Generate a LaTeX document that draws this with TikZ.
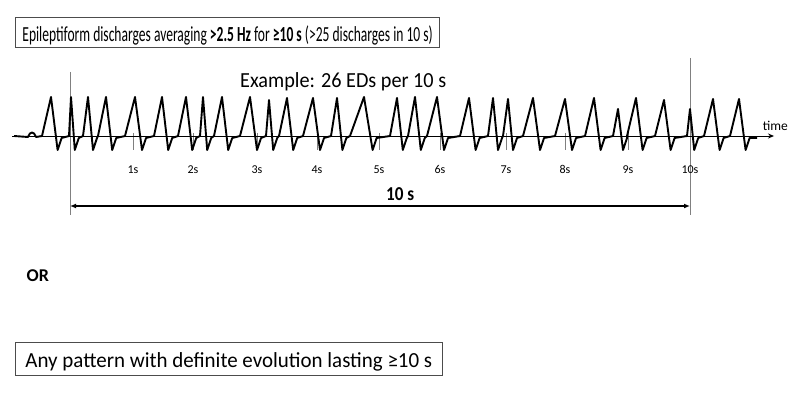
\documentclass[tikz,border=0pt]{standalone}
\usepackage{fontspec}
\setmainfont{Carlito}
\newfontfamily\rulefont[FakeStretch=0.63]{Carlito}
\newfontfamily\examplefont[FakeStretch=0.94]{Carlito}
\newfontfamily\spanfont[FakeStretch=0.87]{Carlito}
\newfontfamily\orfont[FakeStretch=0.975]{Carlito}
\usetikzlibrary{arrows.meta}
\tikzset{textbox/.style={draw=black!70, line width=0.8pt, inner ysep=0pt, anchor=base west},
 ticklabel/.style={font=\fontsize{12}{14}\selectfont, anchor=base},
 edtrace/.style={line width=1.9pt, line join=round},
 marker/.style={draw=black!50, line width=0.6pt},
}

\begin{document}
\begin{tikzpicture}[x=1pt, y=-1pt]
    \useasboundingbox (0,0) rectangle (792,393);
    \node[textbox, inner xsep=7pt, text height=24pt, text depth=6pt] (rule1) at (15,41.3)
        {\rulefont\fontsize{21.5}{24}\selectfont Epileptiform discharges averaging \textbf{>2.5 Hz} for \textbf{≥10 s} (>25 discharges in 10 s)};
    \node[anchor=base west, inner sep=0pt] (example) at (240,88) {\examplefont\fontsize{21.5}{24}\selectfont Example: 26 EDs per 10 s};

    \coordinate (start) at (70,72);
    \coordinate (startbot) at (70,215);
    \coordinate (stop) at (690,58);
    \coordinate (stopbot) at (690,215);
    \draw[marker] (start) -- (startbot);
    \draw[marker] (stop) -- (stopbot);

    \foreach \x[count=\i] in {133,193,257,317,379,440,506,565,628,690} {
        \draw[marker] (\x,133) -- (\x,150);
        \node[ticklabel] (sec\i) at (\x,173.3) {\i s};
    }

    \coordinate (t0) at (12,136);
    \coordinate (t1) at (774,136);
    \draw[line width=0.9pt, -{Stealth[length=6pt,width=5pt]}] (t0) -- (t1);
    \node[anchor=base west, inner sep=0pt, font=\fontsize{13.5}{15}\selectfont] (timelbl) at (762.7,130.7) {time};

    \draw[edtrace] (14,136) -- (28,137) .. controls (30,131) and (34,131) .. (36,137) -- (42,136)
        foreach \p/\w/\h in {51/9/97, 71/2/97, 88/5/97, 106/8/97, 135/10/97, 162/8/97, 186/8/97,
            203/3/97, 222/8/97, 250/10/97, 269/3/100, 287/8/98, 313/10/98, 337/6/98, 364/14/97,
            397/7/98, 415/7/97, 437/10/97, 469/9/98, 493/5/98, 508/5/99, 533/10/98, 565/10/99,
            594/9/98, 618/5/109, 636/9/98, 664/9/100, 690/3/109, 713/9/99, 739/9/99} {
            -- ({\p-\w},136) -- (\p,\h) -- ({\p+0.4*\w+3},150) -- ({\p+0.4*\w+7},138)
        } -- (757,138);

    \coordinate (lft) at (70,206);
    \coordinate (rgt) at (690,206);
    \draw[line width=1.3pt, {Latex[length=6pt,width=5pt]}-{Latex[length=6pt,width=5pt]}] (lft) -- (rgt);
    \node[anchor=base west, inner sep=0pt] (span) at (386,200.7) {\spanfont\fontsize{19.7}{22}\selectfont\bfseries 10 s};

    \node[font=\fontsize{18}{20}\selectfont\bfseries, anchor=base west, inner sep=0pt] (orlbl) at (26.5,281.7) {OR};

    \node[textbox, inner xsep=10pt, text height=24.3pt, text depth=8pt] (rule2) at (15,367)
        {\orfont\fontsize{21.5}{24}\selectfont Any pattern with definite evolution lasting ≥10 s};
\end{tikzpicture}
\end{document}
